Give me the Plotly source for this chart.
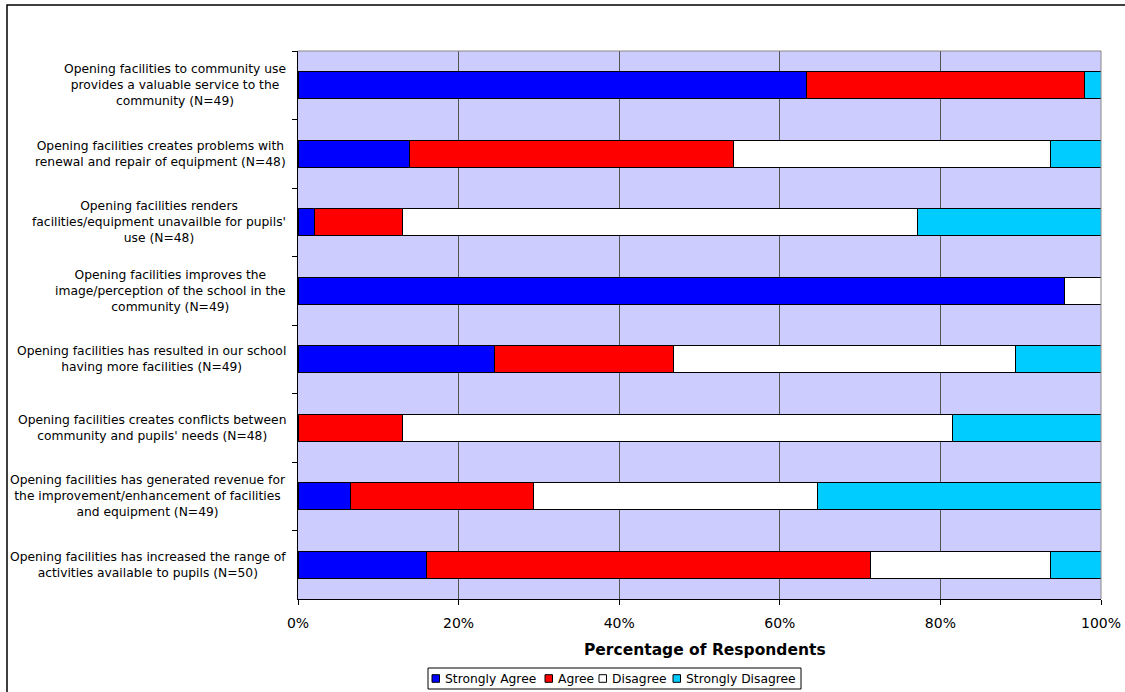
import plotly.graph_objects as go

# Survey statements (y categories, top to bottom)
statements = [
    "Opening facilities to community use<br>provides a valuable service to the<br>community (N=49)",
    "Opening facilities creates problems with<br>renewal and repair of equipment (N=48)",
    "Opening facilities renders<br>facilities/equipment unavailble for pupils'<br>use (N=48)",
    "Opening facilities improves the<br>image/perception of the school in the<br>community (N=49)",
    "Opening facilities has resulted in our school<br>having more facilities (N=49)",
    "Opening facilities creates conflicts between<br>community and pupils' needs (N=48)",
    "Opening facilities has generated revenue for<br>the improvement/enhancement of facilities<br>and equipment (N=49)",
    "Opening facilities has increased the range of<br>activities available to pupils (N=50)",
]

# Percentage of respondents per response
strongly_agree = [63.3, 13.9, 2.1, 95.5, 24.5, 0.0, 6.5, 16.0]
agree = [34.7, 40.3, 10.9, 0.0, 22.3, 13.0, 22.8, 55.3]
disagree = [0.0, 39.5, 64.2, 4.5, 42.6, 68.5, 35.4, 22.4]
strongly_disagree = [2.0, 6.3, 22.8, 0.0, 10.6, 18.5, 35.3, 6.3]

series_names = ["Strongly Agree", "Agree", "Disagree", "Strongly Disagree"]
series_values = [strongly_agree, agree, disagree, strongly_disagree]
series_colors = ["#0000FF", "#FF0000", "#FFFFFF", "#00CCFF"]

x_ticks = [0, 20, 40, 60, 80, 100]
x_tick_labels = ["0%", "20%", "40%", "60%", "80%", "100%"]

FONT = "DejaVu Sans"
W, H = 1125, 692
ML, MR, MT, MB = 298, 24, 51, 93
PW, PH = W - ML - MR, H - MT - MB


def px_x(px):
    """page x pixel -> paper coordinate"""
    return (px - ML) / PW


def px_y(py):
    """page y pixel (from top) -> paper coordinate"""
    return (H - MB - py) / PH


fig = go.Figure()
for name, vals, col in zip(series_names, series_values, series_colors):
    fig.add_trace(go.Bar(
        y=statements, x=vals, name=name, orientation="h",
        marker=dict(color=col, line=dict(color="#000000", width=1)),
        showlegend=False,
    ))

# statement labels, centred line by line, right edge next to the axis
for s in statements:
    fig.add_annotation(
        x=0, xref="paper", y=s, yref="y", text=s, showarrow=False,
        xanchor="right", align="center", xshift=-10,
        font=dict(family=FONT, size=12.3, color="#000000"),
    )

shapes = []
# outer frame of the chart
shapes.append(dict(
    type="rect", xref="paper", yref="paper",
    x0=px_x(7), x1=px_x(1140), y0=px_y(710), y1=px_y(5),
    line=dict(color="#000000", width=1.5), fillcolor="rgba(0,0,0,0)", layer="below",
))
# thin grey top and right edges of the plot area
shapes.append(dict(type="line", xref="paper", yref="paper", x0=0, x1=1, y0=1, y1=1,
                   line=dict(color="#888888", width=1)))
shapes.append(dict(type="line", xref="paper", yref="paper", x0=1, x1=1, y0=0, y1=1,
                   line=dict(color="#888888", width=1)))

# compact legend box below the axis title
leg_left, leg_right, leg_top, leg_bot = 428, 801, 668, 689
shapes.append(dict(type="rect", xref="paper", yref="paper",
                   x0=px_x(leg_left), x1=px_x(leg_right),
                   y0=px_y(leg_bot), y1=px_y(leg_top),
                   line=dict(color="#000000", width=1), fillcolor="#FFFFFF"))
leg_cy = (leg_top + leg_bot) / 2
key_x = [432, 545, 599, 673]
for kx, name, col in zip(key_x, series_names, series_colors):
    shapes.append(dict(type="rect", xref="paper", yref="paper",
                       x0=px_x(kx), x1=px_x(kx + 7.5),
                       y0=px_y(leg_cy + 3.8), y1=px_y(leg_cy - 3.8),
                       line=dict(color="#000000", width=1), fillcolor=col))
    fig.add_annotation(
        x=px_x(kx + 10.5), xref="paper", y=px_y(leg_cy), yref="paper",
        text=name, showarrow=False, xanchor="left", yanchor="middle",
        font=dict(family=FONT, size=12.3, color="#000000"),
    )

# axis title
fig.add_annotation(
    x=px_x(705), xref="paper", y=px_y(650), yref="paper",
    text="<b>Percentage of Respondents</b>", showarrow=False,
    xanchor="center", yanchor="middle",
    font=dict(family=FONT, size=15.5, color="#000000"),
)

fig.update_layout(
    width=W, height=H,
    margin=dict(l=ML, r=MR, t=MT, b=MB),
    paper_bgcolor="#FFFFFF", plot_bgcolor="#CCCCFF",
    barmode="stack", bargap=0.6,
    font=dict(family=FONT, color="#000000"),
    showlegend=False,
    shapes=shapes,
    xaxis=dict(
        range=[0, 100], tickvals=x_ticks, ticktext=x_tick_labels,
        showgrid=True, gridcolor="#555555", gridwidth=1,
        showline=True, linecolor="#000000", linewidth=1, mirror=False,
        ticks="outside", ticklen=5, tickcolor="#000000",
        tickfont=dict(family=FONT, size=14), ticklabelstandoff=6,
        zeroline=False, fixedrange=True, automargin=False,
    ),
    yaxis=dict(
        type="category", autorange="reversed",
        showticklabels=False, tickson="boundaries",
        ticks="outside", ticklen=5, tickcolor="#000000",
        showgrid=False, showline=True, linecolor="#000000", linewidth=1,
        zeroline=False, fixedrange=True, automargin=False,
    ),
)

fig.write_html("out.html")
